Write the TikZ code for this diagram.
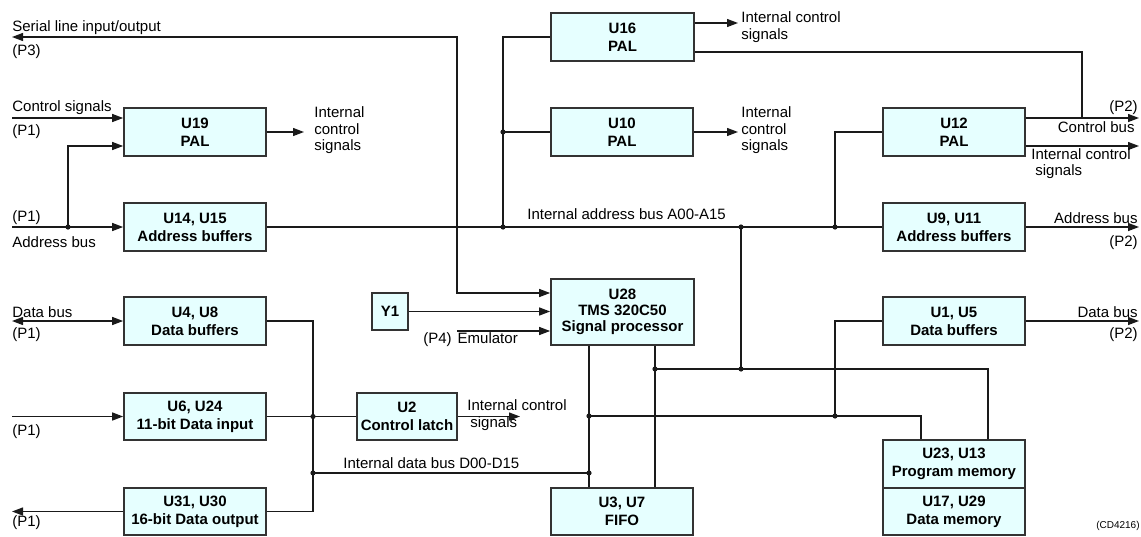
\documentclass[tikz,border=0pt]{standalone}
\usepackage{fontspec}
\setmainfont{Liberation Sans}
\usetikzlibrary{arrows.meta}
\definecolor{boxfill}{HTML}{E6FFFF}
\definecolor{boxline}{HTML}{333333}
\definecolor{wirec}{HTML}{1A1A1A}
\begin{document}
\begin{tikzpicture}[x=0.5pt,y=-0.5pt,
  font=\fontsize{7.5pt}{8.3pt}\selectfont,
  box/.style={draw=boxline, line width=0.85pt, fill=boxfill, minimum width=71pt, minimum height=24pt, inner sep=0pt, align=center, font=\fontsize{7.5pt}{9pt}\selectfont\bfseries},
  wire/.style={draw=wirec, line width=0.65pt},
  arr/.style={wire, -{Triangle[length=5.5pt,width=4pt]}},
  barr/.style={wire, {Triangle[length=5.5pt,width=4pt]}-{Triangle[length=5.5pt,width=4pt]}},
  dot/.style={circle, fill=wirec, inner sep=0pt, minimum size=2.6pt},
  lbl/.style={inner sep=0pt, align=left},
]
\useasboundingbox (0,0) rectangle (1141,536);

% boxes
\node[box] (u19) at (195,132) {U19\\PAL};
\node[box] (u14) at (195,227) {U14, U15\\Address buffers};
\node[box] (u4) at (195,321) {U4, U8\\Data buffers};
\node[box, minimum height=23.5pt] (u6) at (195,416.5) {U6, U24\\11-bit Data input};
\node[box, minimum height=23.5pt] (u31) at (195,511.5) {U31, U30\\16-bit Data output};
\node[box, minimum width=71.5pt] (u16) at (622.5,37) {U16\\PAL};
\node[box] (u10) at (622,132) {U10\\PAL};
\node[box] (u12) at (954,132) {U12\\PAL};
\node[box] (u9) at (954,227) {U9, U11\\Address buffers};
\node[box] (u1) at (954,321) {U1, U5\\Data buffers};
\node[box] (u23) at (954,464) {U23, U13\\Program memory};
\node[box, minimum height=23.5pt] (u17) at (954,511.5) {U17, U29\\Data memory};
\node[box, minimum height=33pt, minimum width=71.5pt, font=\fontsize{7.5pt}{8pt}\selectfont\bfseries] (u28) at (622.5,312) {U28\\TMS 320C50\\Signal processor};
\node[box, minimum width=18pt, minimum height=18.5pt] (y1) at (390,311.5) {Y1};
\node[box, minimum width=50pt, minimum height=23.5pt] (u2) at (407,416.5) {U2\\Control latch};
\node[box, minimum height=23.5pt] (u3) at (622,511.5) {U3, U7\\FIFO};

% junction dots
\node[dot] (d0) at (68,227) {};
\node[dot] (d1) at (503,227) {};
\node[dot] (d1b) at (503,132) {};
\node[dot] (d2) at (741,227) {};
\node[dot] (d2b) at (741,369) {};
\node[dot] (d3) at (835,227) {};
\node[dot] (d4) at (835,416) {};
\node[dot] (d5) at (589,416) {};
\node[dot] (d6) at (589,473) {};
\node[dot] (d7) at (655,369) {};
\node[dot] (d8) at (313,416.5) {};
\node[dot] (d9) at (313,473) {};

% free ends and bends
\coordinate (p3) at (12,37);
\coordinate (s2) at (457,293);
\coordinate (cs) at (12,118);
\coordinate (ab) at (12,227);
\coordinate (j0t) at (68,146);
\coordinate (o19) at (304,132);
\coordinate (o16) at (738,23);
\coordinate (c16) at (1082,52);
\coordinate (c16b) at (1082,118);
\coordinate (cb) at (1139,118);
\coordinate (ic) at (1139,146);
\coordinate (o10) at (738,132);
\coordinate (ab2) at (1139,227);
\coordinate (db2) at (1139,321);
\coordinate (m1) at (921,416);
\coordinate (m2) at (988,369);
\coordinate (x1) at (589,400);
\coordinate (x2) at (655,400);
\coordinate (lv) at (313,511.5);
\coordinate (o2) at (520,416.5);
\coordinate (db1) at (12,321);
\coordinate (di) at (12,416.5);
\coordinate (do) at (12,511.5);
\coordinate (em) at (457,331);

% connectors
\draw[barr] (p3) -| (s2) -- (s2 -| u28.west);
\draw[arr] (cs) -- (cs -| u19.west);
\draw[arr] (ab) -- (u14.west);
\draw[arr] (d0.center) -- (j0t) -- (j0t -| u19.west);
\draw[arr] (u19.east) -- (o19);
\draw[wire] (u14.east) -- (u9.west);
\draw[wire] (d1.center) |- (u16.west);
\draw[wire] (d1b.center) -- (u10.west);
\draw[wire] (d3.center) |- (u12.west);
\draw[wire] (d2.center) -- (d2b.center);
\draw[arr] (o16 -| u16.east) -- (o16);
\draw[wire] (c16 -| u16.east) -- (c16) -- (c16b);
\draw[arr] (cb -| u12.east) -- (cb);
\draw[arr] (ic -| u12.east) -- (ic);
\draw[arr] (u10.east) -- (o10);
\draw[arr] (u9.east) -- (ab2);
\draw[arr] (u1.east) -- (db2);
\draw[wire] (u1.west) -| (d4.center);
\draw[wire] (d5.center) -- (m1) -- (m1 |- u23.north);
\draw[wire] (d7.center) -- (m2) -- (m2 |- u23.north);
\draw[wire] (u28.south -| x1) -- (u3.north -| x1);
\draw[wire] (u28.south -| x2) -- (u3.north -| x2);
\draw[wire] (d9.center) -- (d6.center);
\draw[wire] (u4.east) -| (lv) -- (u31.east);
\draw[wire] (u6.east) -- (u2.west);
\draw[arr] (u2.east) -- (o2);
\draw[barr] (db1) -- (u4.west);
\draw[arr] (di) -- (u6.west);
\draw[arr] (u31.west) -- (do);
\draw[arr] (y1.east) -- (y1.east -| u28.west);
\draw[arr] (em) -- (em -| u28.west);

% labels
\node[lbl, anchor=west] at (12,28) {Serial line input/output};
\node[lbl, anchor=west] at (12,52) {(P3)};
\node[lbl, anchor=west] at (12,108) {Control signals};
\node[lbl, anchor=west] at (12,132) {(P1)};
\node[lbl, anchor=west] at (12,218) {(P1)};
\node[lbl, anchor=west] at (12,242) {Address bus};
\node[lbl, anchor=west] at (12,312) {Data bus};
\node[lbl, anchor=west] at (12,335) {(P1)};
\node[lbl, anchor=west] at (12,432) {(P1)};
\node[lbl, anchor=west] at (12,523) {(P1)};
\node[lbl, anchor=west] at (314,130.5) {Internal\\control\\signals};
\node[lbl, anchor=west] at (741,27) {Internal control\\signals};
\node[lbl, anchor=west] at (741,130.5) {Internal\\control\\signals};
\node[lbl, anchor=east] at (1138,108) {(P2)};
\node[lbl, anchor=east] at (1135,127) {Control bus};
\node[lbl, anchor=west] at (1031,163.5) {Internal control\\\hspace*{2pt}signals};
\node[lbl, anchor=east] at (1138,218) {Address bus};
\node[lbl, anchor=east] at (1138,243) {(P2)};
\node[lbl, anchor=east] at (1138,312) {Data bus};
\node[lbl, anchor=east] at (1138,335) {(P2)};
\node[lbl, anchor=west] at (527,214) {Internal address bus A00-A15};
\node[lbl, anchor=west] at (343,463) {Internal data bus D00-D15};
\node[lbl, anchor=west] at (467,415) {Internal control\\\hspace*{1.5pt}signals};
\node[lbl, anchor=west] at (423,340) {(P4)\hspace{3pt}Emulator};
\node[lbl, anchor=east, font=\fontsize{5pt}{6pt}\selectfont] at (1140,526) {(CD4216)};
\end{tikzpicture}
\end{document}
